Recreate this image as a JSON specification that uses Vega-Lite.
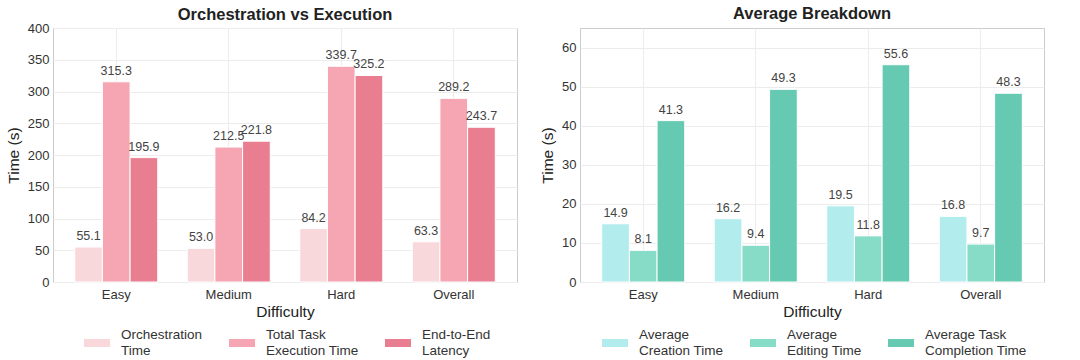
{
  "$schema": "https://vega.github.io/schema/vega-lite/v6.json",
  "padding": {"left": 5, "top": 5, "right": 5, "bottom": 3},
  "spacing": 22,
  "background": "white",
  "config": {
    "font": "Liberation Sans",
    "view": {"stroke": "#cccccc", "strokeWidth": 1},
    "axis": {
      "grid": true,
      "gridColor": "#ececec",
      "domain": false,
      "ticks": false,
      "labelFontSize": 13,
      "labelColor": "#333333",
      "labelPadding": 4,
      "titleFontSize": 15.5,
      "titleFontWeight": "normal",
      "titleColor": "#222222"
    },
    "axisX": {"labelPadding": 6},
    "title": {"fontSize": 16.5, "fontWeight": "bold", "color": "#222222", "anchor": "middle"},
    "legend": {
      "orient": "none",
      "direction": "horizontal",
      "columns": 3,
      "padding": 0,
      "symbolType": "M-1,-0.31H1V0.31H-1Z",
      "symbolSize": 676,
      "symbolStrokeWidth": 0,
      "labelFontSize": 13.5,
      "labelColor": "#333333",
      "labelOffset": 11,
      "labelBaseline": "line-bottom",
      "columnPadding": 26,
      "labelLimit": 220
    }
  },
  "resolve": {"scale": {"color": "independent", "xOffset": "independent", "x": "independent", "y": "independent"}},
  "hconcat": [
    {
      "title": {"text": "Orchestration vs Execution", "offset": -1},
      "width": 464,
      "height": 254,
      "data": {"values": [
        {"difficulty": "Easy", "metric": "Orchestration Time", "value": 55.1},
        {"difficulty": "Easy", "metric": "Total Task Execution Time", "value": 315.3},
        {"difficulty": "Easy", "metric": "End-to-End Latency", "value": 195.9},
        {"difficulty": "Medium", "metric": "Orchestration Time", "value": 53.0},
        {"difficulty": "Medium", "metric": "Total Task Execution Time", "value": 212.5},
        {"difficulty": "Medium", "metric": "End-to-End Latency", "value": 221.8},
        {"difficulty": "Hard", "metric": "Orchestration Time", "value": 84.2},
        {"difficulty": "Hard", "metric": "Total Task Execution Time", "value": 339.7},
        {"difficulty": "Hard", "metric": "End-to-End Latency", "value": 325.2},
        {"difficulty": "Overall", "metric": "Orchestration Time", "value": 63.3},
        {"difficulty": "Overall", "metric": "Total Task Execution Time", "value": 289.2},
        {"difficulty": "Overall", "metric": "End-to-End Latency", "value": 243.7}
      ]},
      "encoding": {
        "x": {
          "field": "difficulty", "type": "nominal",
          "scale": {"domain": ["Easy", "Medium", "Hard", "Overall"], "paddingInner": 0.262, "paddingOuter": 0.193},
          "axis": {"title": "Difficulty", "labelAngle": 0, "titlePadding": 3, "grid": true}
        },
        "xOffset": {
          "field": "metric", "type": "nominal",
          "scale": {"domain": ["Orchestration Time", "Total Task Execution Time", "End-to-End Latency"], "paddingInner": 0, "paddingOuter": 0}
        },
        "y": {
          "field": "value", "type": "quantitative",
          "scale": {"domain": [0, 400], "nice": false},
          "axis": {"title": "Time (s)", "values": [0, 50, 100, 150, 200, 250, 300, 350, 400], "titlePadding": 6}
        }
      },
      "layer": [
        {
          "mark": {"type": "bar", "stroke": "white", "strokeWidth": 1},
          "encoding": {
            "color": {
              "field": "metric", "type": "nominal",
              "scale": {
                "domain": ["Orchestration Time", "Total Task Execution Time", "End-to-End Latency"],
                "range": ["#f9d8dc", "#f5a6b2", "#e97e91"]
              },
              "legend": {
                "title": null,
                "legendX": 31,
                "legendY": 302,
                "labelExpr": "datum.label == 'Orchestration Time' ? ['Orchestration', 'Time'] : datum.label == 'Total Task Execution Time' ? ['Total Task', 'Execution Time'] : ['End-to-End', 'Latency']",
                "encode": {"labels": {"update": {"lineHeight": {"value": 14}}}}
              }
            }
          }
        },
        {
          "mark": {"type": "text", "baseline": "bottom", "dy": -4, "fontSize": 12.5, "color": "#444444"},
          "encoding": {"text": {"field": "value", "type": "quantitative", "format": ".1f"}}
        }
      ]
    },
    {
      "title": {"text": "Average Breakdown", "offset": 6},
      "width": 464,
      "height": 254,
      "data": {"values": [
        {"difficulty": "Easy", "metric": "Average Creation Time", "value": 14.9},
        {"difficulty": "Easy", "metric": "Average Editing Time", "value": 8.1},
        {"difficulty": "Easy", "metric": "Average Task Completion Time", "value": 41.3},
        {"difficulty": "Medium", "metric": "Average Creation Time", "value": 16.2},
        {"difficulty": "Medium", "metric": "Average Editing Time", "value": 9.4},
        {"difficulty": "Medium", "metric": "Average Task Completion Time", "value": 49.3},
        {"difficulty": "Hard", "metric": "Average Creation Time", "value": 19.5},
        {"difficulty": "Hard", "metric": "Average Editing Time", "value": 11.8},
        {"difficulty": "Hard", "metric": "Average Task Completion Time", "value": 55.6},
        {"difficulty": "Overall", "metric": "Average Creation Time", "value": 16.8},
        {"difficulty": "Overall", "metric": "Average Editing Time", "value": 9.7},
        {"difficulty": "Overall", "metric": "Average Task Completion Time", "value": 48.3}
      ]},
      "encoding": {
        "x": {
          "field": "difficulty", "type": "nominal",
          "scale": {"domain": ["Easy", "Medium", "Hard", "Overall"], "paddingInner": 0.262, "paddingOuter": 0.193},
          "axis": {"title": "Difficulty", "labelAngle": 0, "titlePadding": 3, "grid": true}
        },
        "xOffset": {
          "field": "metric", "type": "nominal",
          "scale": {"domain": ["Average Creation Time", "Average Editing Time", "Average Task Completion Time"], "paddingInner": 0, "paddingOuter": 0}
        },
        "y": {
          "field": "value", "type": "quantitative",
          "scale": {"domain": [0, 65], "nice": false},
          "axis": {"title": "Time (s)", "values": [0, 10, 20, 30, 40, 50, 60], "titlePadding": 6}
        }
      },
      "layer": [
        {
          "mark": {"type": "bar", "stroke": "white", "strokeWidth": 1},
          "encoding": {
            "color": {
              "field": "metric", "type": "nominal",
              "scale": {
                "domain": ["Average Creation Time", "Average Editing Time", "Average Task Completion Time"],
                "range": ["#b3ecec", "#86dcc6", "#66c9b2"]
              },
              "legend": {
                "title": null,
                "legendX": 22,
                "legendY": 302,
                "labelExpr": "datum.label == 'Average Creation Time' ? ['Average', 'Creation Time'] : datum.label == 'Average Editing Time' ? ['Average', 'Editing Time'] : ['Average Task', 'Completion Time']",
                "encode": {"labels": {"update": {"lineHeight": {"value": 14}}}}
              }
            }
          }
        },
        {
          "mark": {"type": "text", "baseline": "bottom", "dy": -4, "fontSize": 12.5, "color": "#444444"},
          "encoding": {"text": {"field": "value", "type": "quantitative", "format": ".1f"}}
        }
      ]
    }
  ]
}
